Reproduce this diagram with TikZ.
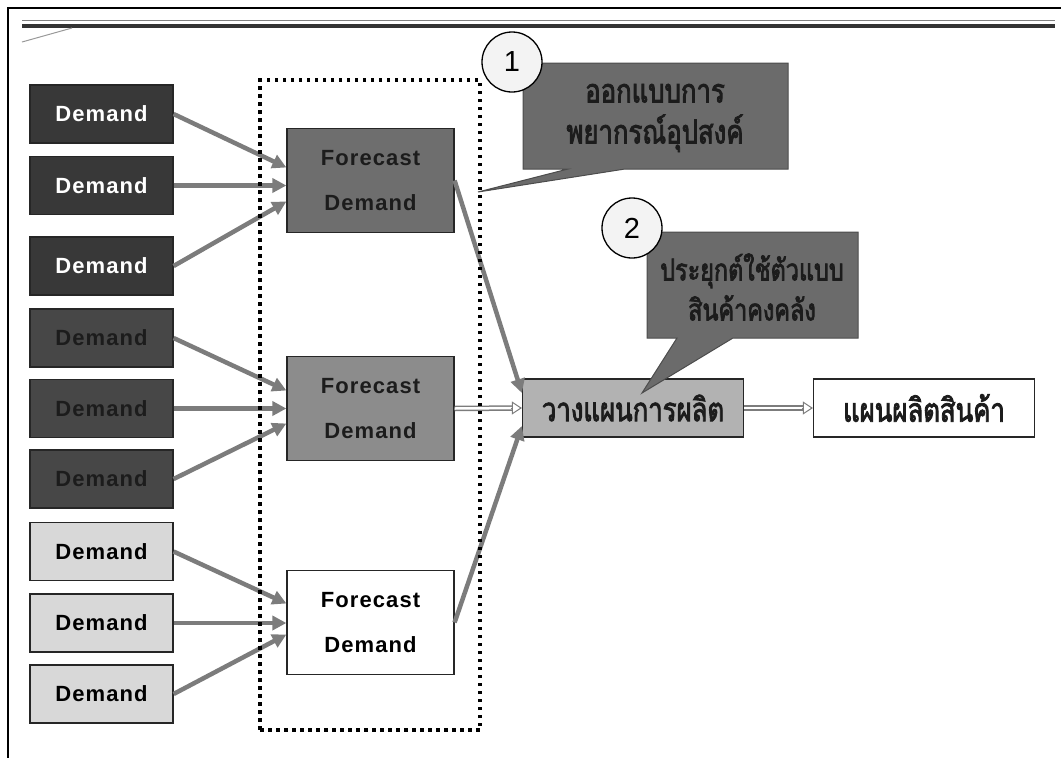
\documentclass[tikz,border=0pt]{standalone}
\usepackage{fontspec}
\setmainfont{Liberation Sans}
\newfontfamily\lab[LetterSpace=5]{Liberation Sans}
\newfontfamily\thai[Script=Thai,FakeStretch=0.78,FakeBold=2.5]{Loma}
\usetikzlibrary{arrows.meta}
\definecolor{dkA}{HTML}{383838}
\definecolor{dkB}{HTML}{474747}
\definecolor{txtB}{HTML}{1C1C1C}
\definecolor{ltg}{HTML}{D8D8D8}
\definecolor{fcA}{HTML}{6E6E6E}
\definecolor{fcB}{HTML}{8C8C8C}
\definecolor{cbc}{HTML}{B2B2B2}
\definecolor{callc}{HTML}{6B6B6B}
\definecolor{arrc}{HTML}{7C7C7C}
\definecolor{circf}{HTML}{F3F3F3}
\begin{document}
\begin{tikzpicture}[x=1pt,y=-1pt,
  box/.style={draw=black!85, line width=1.2pt, inner sep=0pt, minimum width=143pt, minimum height=58pt, font=\lab\bfseries\fontsize{22}{26}\selectfont},
  demA/.style={box, fill=dkA, text=white},
  demB/.style={box, fill=dkB, text=txtB},
  demC/.style={box, fill=ltg, text=black},
  fc/.style={draw=black!85, line width=1.2pt, inner sep=0pt, minimum width=167pt, minimum height=104pt, align=center, font=\lab\bfseries\fontsize{22}{45}\selectfont},
  arr/.style={draw=arrc, line width=4.5pt, -{Triangle[length=14pt,width=14pt]}},
  dblout/.style={draw=arrc, line width=5.5pt, shorten >=9pt},
  dblin/.style={draw=white, line width=2.5pt, shorten >=9pt},
  dbltip/.style={draw=arrc, line width=1pt, -{Triangle[open,length=10pt,width=13pt,fill=white]}},
  plan/.style={draw=black!85, line width=1.2pt, inner sep=0pt, minimum width=221pt, minimum height=58pt, font=\thai\fontsize{33}{36}\selectfont, text=txtB},
  callout/.style={fill=callc, draw=black!70, line width=1pt},
  ctext/.style={align=center, text=txtB, inner sep=0pt, font=\thai\fontsize{33}{41}\selectfont},
  num/.style={circle, draw=black, line width=1.3pt, fill=circf, minimum size=60pt, inner sep=0pt, font=\fontsize{29}{30}\selectfont}
]
\useasboundingbox (0,0) rectangle (1061,758);
% frame
\draw[line width=2.5pt] (8,758) -- (8,8) -- (1061,8);
\draw[line width=1pt, black!50] (22,20) -- (1055,20);
\draw[line width=3.5pt, black!80] (22,26) -- (1055,26);
\draw[line width=1pt, black!40] (22,42) -- (72,28);

% demand boxes
\node[demA] (d1) at (101.5,114) {Demand};
\node[demA] (d2) at (101.5,185.5) {Demand};
\node[demA] (d3) at (101.5,266) {Demand};
\node[demB] (d4) at (101.5,338) {Demand};
\node[demB] (d5) at (101.5,408.5) {Demand};
\node[demB] (d6) at (101.5,479) {Demand};
\node[demC] (d7) at (101.5,551.5) {Demand};
\node[demC] (d8) at (101.5,623) {Demand};
\node[demC] (d9) at (101.5,694) {Demand};

% forecast boxes
\node[fc, fill=fcA, text=txtB] (f1) at (370.5,180.5) {Forecast\\Demand};
\node[fc, fill=fcB, text=txtB] (f2) at (370.5,408.5) {Forecast\\Demand};
\node[fc, fill=white, text=black] (f3) at (370.5,622.5) {Forecast\\Demand};

% plan boxes
\node[plan, fill=cbc] (cb) at (633,408) {วางแผนการผลิต};
\node[plan, fill=white] (rb) at (924,408) {แผนผลิตสินค้า};

% arrows demand -> forecast
\draw[arr] (d1.east) -- ([yshift=13pt]f1.west);
\draw[arr] (d2.east) -- (d2.east -| f1.west);
\draw[arr] (d3.east) -- ([yshift=-21pt]f1.west);
\draw[arr] (d4.east) -- ([yshift=18pt]f2.west);
\draw[arr] (d5.east) -- (d5.east -| f2.west);
\draw[arr] (d6.east) -- ([yshift=-15pt]f2.west);
\draw[arr] (d7.east) -- ([yshift=19pt]f3.west);
\draw[arr] (d8.east) -- (d8.east -| f3.west);
\draw[arr] (d9.east) -- ([yshift=-12pt]f3.west);

% forecast -> plan
\draw[arr] (f1.east) -- ([yshift=15pt]cb.west);
\draw[arr] (f3.east) -- ([yshift=-18pt]cb.west);
\draw[dblout] (f2.east) -- (cb.west);
\draw[dblin] (f2.east) -- (cb.west);
\draw[dbltip] ([xshift=-11pt]cb.west) -- (cb.west);
\draw[dblout] (cb.east) -- (rb.west);
\draw[dblin] (cb.east) -- (rb.west);
\draw[dbltip] ([xshift=-11pt]rb.west) -- (rb.west);

% dotted group
\node[draw, line width=3.5pt, dash pattern=on 3.5pt off 4.5pt, minimum width=220pt, minimum height=650pt, inner sep=0pt] (grp) at (370,405) {};

% callout 1
\filldraw[callout] (523,63) -- (788,63) -- (788,169) -- (625,169) -- (478,192) -- (568,169) -- (523,169) -- cycle;
\node[ctext] (t1) at (655,118) {ออกแบบการ\\พยากรณ์อุปสงค์};
\node[num] (n1) at (512,62) {1};

% callout 2
\filldraw[callout] (647,232) -- (858,232) -- (858,338) -- (733,338) -- (642,393) -- (677,338) -- (647,338) -- cycle;
\node[ctext, font=\thai\fontsize{30}{40}\selectfont] (t2) at (752,287) {ประยุกต์ใช้ตัวแบบ\\สินค้าคงคลัง};
\node[num] (n2) at (632,228) {2};
\end{tikzpicture}
\end{document}
